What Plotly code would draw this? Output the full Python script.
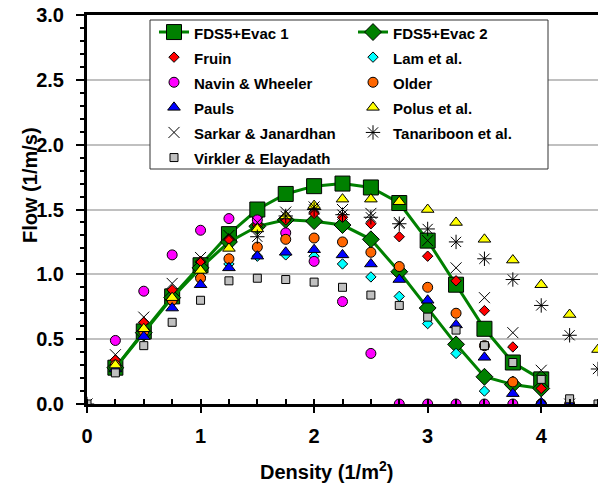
import plotly.graph_objects as go

# ---------------- data ----------------
fds1_x = [0.25, 0.5, 0.75, 1.0, 1.25, 1.5, 1.75, 2.0, 2.25, 2.5, 2.75, 3.0, 3.25, 3.5, 3.75, 4.0]
fds1_y = [0.28, 0.56, 0.83, 1.07, 1.31, 1.50, 1.62, 1.68, 1.70, 1.67, 1.55, 1.26, 0.92, 0.58, 0.32, 0.19]

fds2_x = [0.25, 0.5, 0.75, 1.0, 1.25, 1.5, 1.75, 2.0, 2.25, 2.5, 2.75, 3.0, 3.25, 3.5, 3.75, 4.0]
fds2_y = [0.28, 0.55, 0.82, 1.05, 1.25, 1.37, 1.42, 1.41, 1.38, 1.27, 1.02, 0.74, 0.46, 0.21, 0.15, 0.12]

fruin_x = [0.25, 0.5, 0.75, 1.0, 1.25, 1.5, 1.75, 2.0, 2.25, 2.5, 2.75, 3.0, 3.25, 3.5, 3.75, 4.0]
fruin_y = [0.34, 0.63, 0.88, 1.10, 1.27, 1.38, 1.42, 1.47, 1.44, 1.39, 1.29, 1.14, 0.95, 0.72, 0.44, 0.12]

lam_x = [0.25, 0.5, 0.75, 1.0, 1.25, 1.5, 1.75, 2.0, 2.25, 2.5, 2.75, 3.0, 3.25, 3.5]
lam_y = [0.30, 0.56, 0.80, 0.98, 1.08, 1.14, 1.15, 1.14, 1.08, 0.98, 0.83, 0.62, 0.39, 0.10]

navin_x = [0.25, 0.5, 0.75, 1.0, 1.25, 1.5, 1.75, 2.0, 2.25, 2.5, 2.75, 3.0, 3.25, 3.5, 3.75, 4.0]
navin_y = [0.49, 0.87, 1.15, 1.34, 1.43, 1.42, 1.32, 1.10, 0.79, 0.39, 0.0, 0.0, 0.0, 0.0, 0.0, 0.0]

older_x = [0.25, 0.5, 0.75, 1.0, 1.25, 1.5, 1.75, 2.0, 2.25, 2.5, 2.75, 3.0, 3.25, 3.5, 3.75, 4.0, 4.25]
older_y = [0.30, 0.56, 0.80, 0.97, 1.12, 1.21, 1.27, 1.28, 1.25, 1.17, 1.06, 0.90, 0.70, 0.45, 0.17, 0.0, 0.0]

pauls_x = [0.25, 0.5, 0.75, 1.0, 1.25, 1.5, 1.75, 2.0, 2.25, 2.5, 2.75, 3.0, 3.25, 3.5, 3.75, 4.0, 4.25]
pauls_y = [0.27, 0.52, 0.74, 0.92, 1.05, 1.14, 1.17, 1.19, 1.15, 1.08, 0.96, 0.80, 0.61, 0.36, 0.08, 0.01, 0.0]

polus_x = [0.25, 0.5, 0.75, 1.0, 1.25, 1.5, 1.75, 2.0, 2.25, 2.5, 2.75, 3.0, 3.25, 3.5, 3.75, 4.0, 4.25, 4.5]
polus_y = [0.30, 0.58, 0.82, 1.03, 1.20, 1.35, 1.45, 1.53, 1.58, 1.58, 1.56, 1.50, 1.40, 1.27, 1.11, 0.92, 0.69, 0.42]

sarkar_x = [0.0, 0.25, 0.5, 0.75, 1.0, 1.25, 1.5, 1.75, 2.0, 2.25, 2.5, 2.75, 3.0, 3.25, 3.5, 3.75, 4.0, 4.25]
sarkar_y = [0.0, 0.38, 0.67, 0.93, 1.13, 1.30, 1.40, 1.48, 1.52, 1.50, 1.47, 1.40, 1.26, 1.05, 0.82, 0.55, 0.26, 0.0]

tanar_x = [0.0, 1.5, 1.75, 2.0, 2.25, 2.5, 2.75, 3.0, 3.25, 3.5, 3.75, 4.0, 4.25, 4.5]
tanar_y = [0.0, 1.29, 1.45, 1.50, 1.46, 1.44, 1.39, 1.35, 1.25, 1.12, 0.96, 0.76, 0.53, 0.27]

virk_x = [0.0, 0.25, 0.5, 0.75, 1.0, 1.25, 1.5, 1.75, 2.0, 2.25, 2.5, 2.75, 3.0, 3.25, 3.5, 3.75, 4.0, 4.25, 4.5]
virk_y = [0.0, 0.24, 0.45, 0.63, 0.80, 0.95, 0.97, 0.96, 0.94, 0.90, 0.84, 0.76, 0.67, 0.57, 0.45, 0.32, 0.19, 0.04, 0.0]

y_tickvals = [0.0, 0.5, 1.0, 1.5, 2.0, 2.5, 3.0]
x_tickvals = [0, 1, 2, 3, 4]

FONT = "Liberation Sans, Arial, sans-serif"
GREEN = "#008000"

# plot-area geometry (pixels) used to place paper-referenced items
L, T, W, H = 87, 15, 511, 389


def px(xp):
    return (xp - L) / W


def py(yp):
    return (T + H - yp) / H


def nm(s):
    return '<span style="font-size:15px">' + s + '</span>'


fig = go.Figure()

fig.add_trace(go.Scatter(x=fds1_x, y=fds1_y, name=nm("FDS5+Evac 1"), mode="lines+markers",
                         line=dict(color=GREEN, width=3),
                         marker=dict(symbol="square", size=15, color=GREEN, line=dict(color="black", width=1))))
fig.add_trace(go.Scatter(x=fds2_x, y=fds2_y, name=nm("FDS5+Evac 2"), mode="lines+markers",
                         line=dict(color=GREEN, width=3),
                         marker=dict(symbol="diamond", size=13, color=GREEN, line=dict(color="black", width=1))))


def pts(x, y, name, symbol, size, color, lc="black", lw=1):
    fig.add_trace(go.Scatter(x=x, y=y, name=nm(name), mode="markers",
                             marker=dict(symbol=symbol, size=size, color=color,
                                         line=dict(color=lc, width=lw))))


pts(fruin_x, fruin_y, "Fruin", "diamond", 8, "#FF0000")
pts(lam_x, lam_y, "Lam et al.", "diamond", 8, "#00FFFF")
pts(navin_x, navin_y, "Navin &amp; Wheeler", "circle", 10, "#FF00FF")
pts(older_x, older_y, "Older", "circle", 10, "#FF6600")
pts(pauls_x, pauls_y, "Pauls", "triangle-up", 11, "#0000FF")
pts(polus_x, polus_y, "Polus et al.", "triangle-up", 11, "#FFFF00")
pts(sarkar_x, sarkar_y, "Sarkar &amp; Janardhan", "x-thin-open", 11, "black", "black", 1)
pts(tanar_x, tanar_y, "Tanariboon et al.", "asterisk-open", 12, "black", "black", 1)
pts(virk_x, virk_y, "Virkler &amp; Elayadath", "square", 8, "#C0C0C0")

fig.update_xaxes(range=[0, 4.5], tickvals=x_tickvals, ticktext=[str(v) for v in x_tickvals],
                 showgrid=False, zeroline=False, showline=True, linecolor="black", linewidth=3,
                 mirror=True, ticks="outside", ticklen=6, tickwidth=2, tickcolor="black",
                 minor=dict(dtick=0.25, ticks="inside", ticklen=5, tickwidth=2, tickcolor="black", showgrid=False),
                 tickfont=dict(family=FONT, size=20, color="black", weight="bold"),
                 ticklabelstandoff=6)
fig.update_yaxes(range=[0, 3], tickvals=y_tickvals, ticktext=["%.1f" % v for v in y_tickvals],
                 showgrid=True, gridcolor="#C0C0C0", gridwidth=2, zeroline=False,
                 showline=True, linecolor="black", linewidth=3,
                 ticks="outside", ticklen=8, tickwidth=2, tickcolor="black",
                 minor=dict(dtick=0.1, ticks="outside", ticklen=4, tickwidth=2, tickcolor="black", showgrid=False),
                 tickfont=dict(family=FONT, size=20, color="black", weight="bold"),
                 ticklabelstandoff=8)

fig.add_annotation(text="Density (1/m<sup>2</sup>)", xref="paper", yref="paper",
                   x=px(326), y=py(470), xanchor="center", yanchor="middle",
                   showarrow=False, font=dict(family=FONT, size=20, color="black", weight="bold"))
fig.add_annotation(text="Flow (1/m/s)", xref="paper", yref="paper", textangle=-90,
                   x=px(30), y=py(185), xanchor="center", yanchor="middle",
                   showarrow=False, font=dict(family=FONT, size=20, color="black", weight="bold"))

# legend frame (white box that hides the grid beneath the legend)
fig.add_shape(type="rect", xref="paper", yref="paper",
              x0=px(150), x1=px(548), y0=py(169), y1=py(20),
              fillcolor="white", line=dict(color="#333333", width=1), layer="above")

fig.update_layout(
    width=598, height=495,
    margin=dict(l=L, r=0, t=T, b=495 - T - H),
    plot_bgcolor="white", paper_bgcolor="white",
    showlegend=True,
    legend=dict(orientation="h", x=px(154), y=py(14.5), xanchor="left", yanchor="top",
                entrywidth=154, entrywidthmode="pixels",
                bgcolor="rgba(0,0,0,0)", borderwidth=0,
                font=dict(family=FONT, size=17, color="black", weight="bold"),
                traceorder="normal"),
)

fig.write_html("out.html")
